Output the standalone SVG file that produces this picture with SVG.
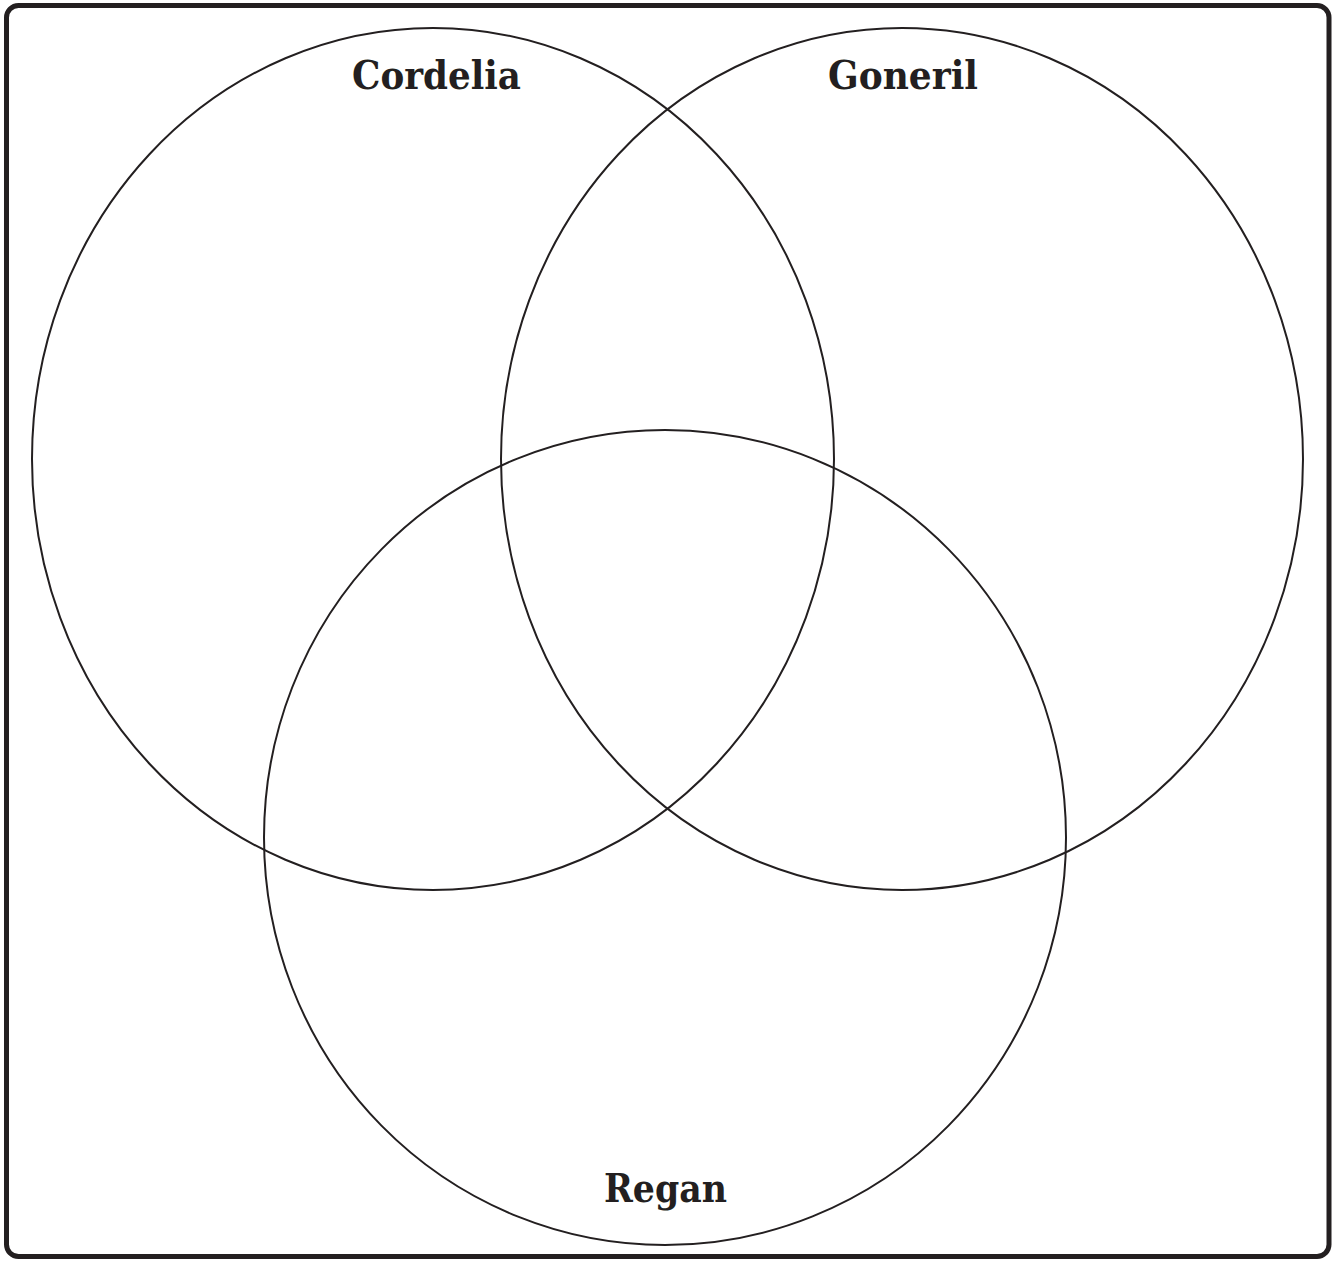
<svg xmlns="http://www.w3.org/2000/svg" width="1337" height="1261" viewBox="0 0 1337 1261">
<style>
.frame{fill:#fff;stroke:#231f20;stroke-width:5}
.set{fill:none;stroke:#231f20;stroke-width:2}
.lbl{font-family:"DejaVu Serif","Liberation Serif",serif;font-weight:bold;font-size:39px;fill:#231f20;text-anchor:middle}
</style>
<rect class="frame" x="6.5" y="5.5" width="1322.5" height="1251" rx="12"/>
<g id="cordelia">
<ellipse class="set" cx="433" cy="459" rx="401" ry="431"/>
<text class="lbl" x="436.5" y="89" textLength="169" lengthAdjust="spacingAndGlyphs">Cordelia</text>
</g>
<g id="goneril">
<ellipse class="set" cx="902" cy="459" rx="401" ry="431"/>
<text class="lbl" x="903" y="89" textLength="150" lengthAdjust="spacingAndGlyphs">Goneril</text>
</g>
<g id="regan">
<ellipse class="set" cx="665" cy="837.5" rx="401" ry="407.5"/>
<text class="lbl" x="665.5" y="1202" textLength="123" lengthAdjust="spacingAndGlyphs">Regan</text>
</g>
<g id="connectors"/>
</svg>
